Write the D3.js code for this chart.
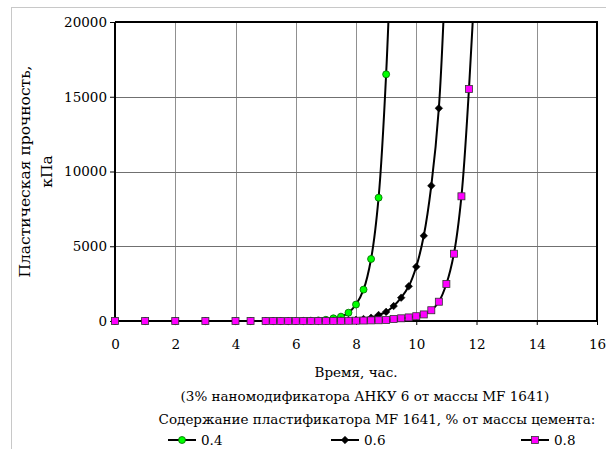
<!DOCTYPE html>
<html><head><meta charset="utf-8">
<script src="https://cdn.jsdelivr.net/npm/d3@7"></script>
<style>body{margin:0;background:#fff}svg{display:block}</style>
</head><body><svg id="c" width="606" height="449"></svg>
<script>
const xTicks = [0,2,4,6,8,10,12,14,16];
const yTicks = [0,5000,10000,15000,20000];
const timeA = [0,1,2,3,4,4.5,5,5.25,5.5,5.75,6,6.25,6.5,6.75,7,7.25,7.5,7.75,8,8.25,8.5,8.75,9,9.25];
const s04 = [0,0,0,0,0,0,0,0,0,0,0,10,20,40,80,180,290,555,1100,2100,4150,8250,16500,30000];
const timeB = [0,1,2,3,4,4.5,5,5.25,5.5,5.75,6,6.25,6.5,6.75,7,7.25,7.5,7.75,8,8.25,8.5,8.75,9,9.25,9.5,9.75,10,10.25,10.5,10.75,11];
const s06 = [0,0,0,0,0,0,0,0,0,0,0,0,0,5,10,20,30,50,80,130,220,400,610,1000,1560,2320,3630,5700,9050,14230,25000];
const timeC = [0,1,2,3,4,4.5,5,5.25,5.5,5.75,6,6.25,6.5,6.75,7,7.25,7.5,7.75,8,8.25,8.5,8.75,9,9.25,9.5,9.75,10,10.25,10.5,10.75,11,11.25,11.5,11.75,12];
const s08 = [0,0,0,0,0,0,0,0,0,0,0,0,0,0,0,5,10,15,20,30,40,50,70,130,180,240,320,440,720,1290,2475,4500,8340,15520,25000];
const seriesNames = ["0.4","0.6","0.8"];
const xTitle = "Время, час.";
const yTitle = ["Пластическая прочность,","кПа"];
const note1 = "(3% наномодификатора АНКУ 6 от массы MF 1641)";
const note2 = "Содержание пластификатора MF 1641, % от массы цемента:";

const FONT = "DejaVu Serif";
const svg = d3.select("#c").attr("font-family",FONT);
const L=115,R=597,T=22,B=321;
const x = d3.scaleLinear().domain([0,16]).range([L,R]);
const y = d3.scaleLinear().domain([0,20000]).range([B,T]);

svg.append("rect").attr("x",11.5).attr("y",7.5).attr("width",610).attr("height",460).attr("fill","none").attr("stroke","#c8c8c8");

svg.append("g").selectAll("line").data(xTicks.slice(1,-1)).join("line")
  .attr("x1",d=>Math.round(x(d))+0.5).attr("x2",d=>Math.round(x(d))+0.5).attr("y1",T).attr("y2",B)
  .attr("stroke","#909090").attr("stroke-width",1);
svg.append("g").selectAll("line").data(yTicks.slice(1,-1)).join("line")
  .attr("y1",d=>Math.round(y(d))+0.5).attr("y2",d=>Math.round(y(d))+0.5).attr("x1",L).attr("x2",R)
  .attr("stroke","#707070").attr("stroke-width",1);

const xAxis = svg.append("g").attr("transform",`translate(0,${B})`)
  .call(d3.axisBottom(x).tickValues(xTicks).tickSize(4).tickPadding(14).tickFormat(d3.format("d")));
const yAxis = svg.append("g").attr("transform",`translate(${L},0)`)
  .call(d3.axisLeft(y).tickValues(yTicks).tickSize(5).tickPadding(3).tickFormat(d3.format("d")));
[xAxis,yAxis].forEach(a=>{
  a.attr("font-family",FONT).attr("font-size",13.5);
  a.select(".domain").remove();
  a.selectAll(".tick line").attr("stroke","#000");
  a.selectAll("text").attr("fill","#000");
});
svg.append("line").attr("x1",L).attr("x2",L).attr("y1",T).attr("y2",B+1).attr("stroke","#000").attr("stroke-width",2);
svg.append("line").attr("x1",L).attr("x2",R).attr("y1",B).attr("y2",B).attr("stroke","#000").attr("stroke-width",2);
svg.append("line").attr("x1",L).attr("x2",R+1).attr("y1",T).attr("y2",T).attr("stroke","#000").attr("stroke-width",2);
svg.append("line").attr("x1",R).attr("x2",R).attr("y1",T).attr("y2",B).attr("stroke","#000").attr("stroke-width",2);

svg.append("clipPath").attr("id","clip").append("rect").attr("x",L-6).attr("y",T-1).attr("width",R-L+12).attr("height",B-T+10);
const plot = svg.append("g").attr("clip-path","url(#clip)");
const line = d3.line().x(d=>x(d[0])).y(d=>y(d[1])).curve(d3.curveCatmullRom.alpha(0.5));
const sets = [
  {t:timeA,v:s04,shape:"circle",fill:"#00ff00",stroke:"#006400"},
  {t:timeB,v:s06,shape:"diamond",fill:"#000",stroke:"#000"},
  {t:timeC,v:s08,shape:"square",fill:"#ff00ff",stroke:"#333"}
];
function marker(g,shape,fill,stroke){
  if(shape==="circle") g.append("circle").attr("r",3.5).attr("fill",fill).attr("stroke",stroke).attr("stroke-width",0.8);
  else if(shape==="diamond") g.append("path").attr("d",d3.symbol(d3.symbolDiamond2,36)()).attr("fill",fill).attr("stroke",stroke).attr("stroke-width",0.6);
  else g.append("rect").attr("x",-3.5).attr("y",-3.5).attr("width",7).attr("height",7).attr("fill",fill).attr("stroke",stroke).attr("stroke-width",0.8);
}
sets.forEach(s=>{
  const pts = s.t.map((t,i)=>[t,s.v[i]]);
  plot.append("path").datum(pts).attr("d",line).attr("fill","none").attr("stroke","#000").attr("stroke-width",2);
  pts.filter(p=>p[1]<=20000).forEach(p=>{
    const g = plot.append("g").attr("transform",`translate(${x(p[0])},${y(p[1])})`);
    marker(g,s.shape,s.fill,s.stroke);
  });
});

const yt = svg.append("text").attr("transform",`translate(30,${(T+B)/2}) rotate(-90)`).attr("text-anchor","middle").attr("font-size",15.5);
yt.append("tspan").attr("x",0).attr("dy",0).text(yTitle[0]);
yt.append("tspan").attr("x",0).attr("dy",22).text(yTitle[1]);
svg.append("text").attr("x",(L+R)/2).attr("y",377).attr("text-anchor","middle").attr("font-size",13.5).text(xTitle);
svg.append("text").attr("x",365).attr("y",401).attr("text-anchor","middle").attr("font-size",13.5).text(note1);
svg.append("text").attr("x",377).attr("y",424).attr("text-anchor","middle").attr("font-size",13.5).text(note2);

const legX = [168,331,521];
seriesNames.forEach((n,i)=>{
  const g = svg.append("g").attr("transform",`translate(${legX[i]},440)`);
  g.append("line").attr("x1",0).attr("x2",28).attr("stroke","#000").attr("stroke-width",2);
  const m = g.append("g").attr("transform","translate(14,0)");
  marker(m,sets[i].shape,sets[i].fill,sets[i].stroke);
  g.append("text").attr("x",33).attr("y",5).attr("font-size",13.5).text(n);
});
</script></body></html>
